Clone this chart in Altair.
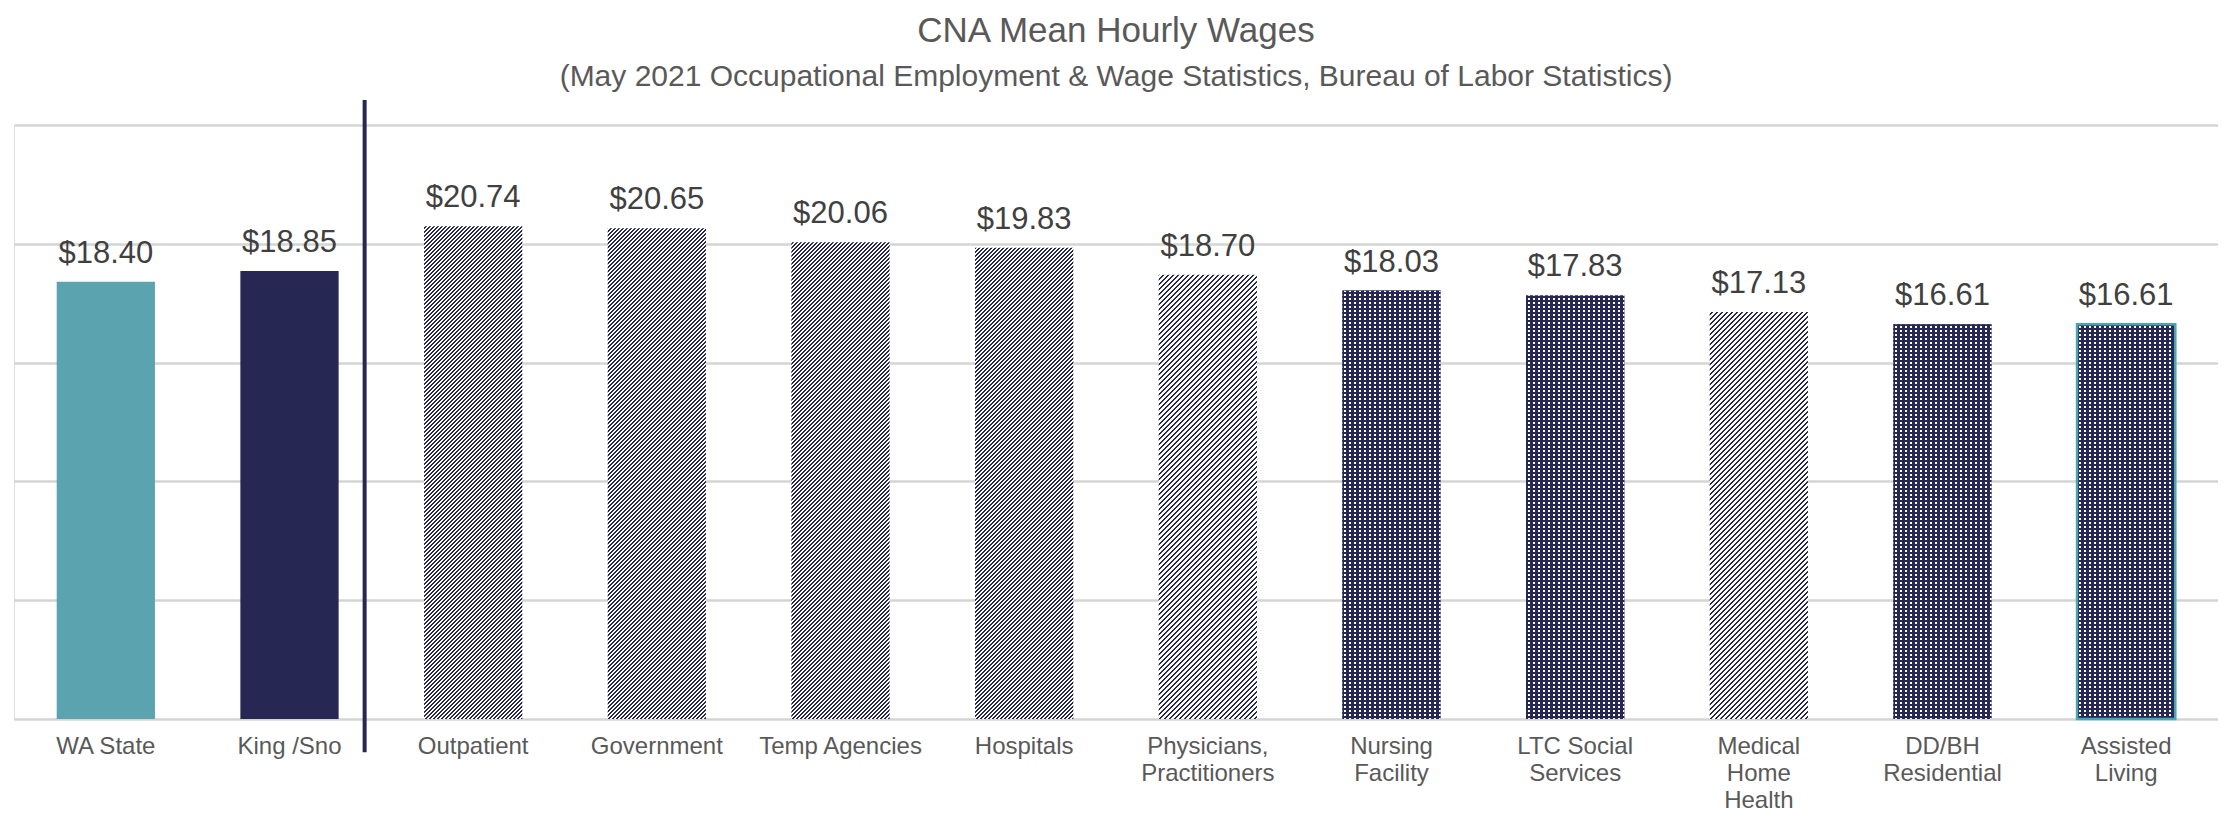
import math
import altair as alt
import pandas as pd

# ---------------- data ----------------
categories = ["WA State", "King /Sno", "Outpatient", "Government", "Temp Agencies", "Hospitals",
              "Physicians,\nPractitioners", "Nursing\nFacility", "LTC Social\nServices",
              "Medical\nHome\nHealth", "DD/BH\nResidential", "Assisted\nLiving"]
wages = [18.40, 18.85, 20.74, 20.65, 20.06, 19.83, 18.70, 18.03, 17.83, 17.13, 16.61, 16.61]
fill_kind = ["teal", "navy", "hatch", "hatch", "hatch", "hatch", "hatch_light",
             "dots", "dots", "hatch_light", "dots", "dots"]
outlined = [False] * 11 + [True]
separator_after = ["King /Sno"]
separator_top = [26.05]
separator_bottom = [-1.4]

df = pd.DataFrame({"cat": categories, "wage": wages, "kind": fill_kind, "outlined": outlined})

# ---------------- layout / style ----------------
W, H = 2204, 594
YMAX = 25
P_IN, P_OUT = 0.465, 0.2325
NAVY = "#262853"
TEAL = "#5BA3AE"
GREY = "#595959"
FONT = "Liberation Sans, Arial, sans-serif"
CLEAR_W = "rgba(255,255,255,0)"
CLEAR_N = "rgba(38,40,83,0)"

step = W / (len(categories) - P_IN + 2 * P_OUT)
BW = step * (1 - P_IN)
PX_PER_UNIT = H / YMAX
CH = 20.0                      # pattern tile height in px (multiple of every stripe period)
CH_U = CH / PX_PER_UNIT

PATTERNS = {
    "hatch": dict(kind="diag", period=4.0, on=2.0, color=NAVY, off="#ffffff", start=0.0),
    "hatch_light": dict(kind="diag", period=5.0, on=2.0, color=NAVY, off="#ffffff", start=0.0),
    "dots": dict(kind="rows", period=4.0, on=2.0, color=NAVY, off=CLEAR_N, start=0.6),
}


def stripe_stops(total, period, on, on_col, off_col, phase=0.0):
    stops = []
    pos = (phase % period) - period
    while pos < total:
        a, b, c = pos, pos + on, pos + period
        for off, col in ((a, on_col), (b, on_col), (b, off_col), (c, off_col)):
            o = min(max(off / total, 0.0), 1.0)
            stops.append({"offset": round(o, 6), "color": col})
        pos += period
    return stops


def pattern_grad(name, h, phase_shift=0.0):
    p = PATTERNS[name]
    phase = p["start"] + phase_shift
    if p["kind"] == "diag":
        s = (BW + h) / (BW ** 2 + h ** 2)
        return {"gradient": "linear", "x1": 0, "y1": 0, "x2": s * BW, "y2": s * h,
                "stops": stripe_stops(BW + h, p["period"], p["on"], p["color"], p["off"], phase)}
    return {"gradient": "linear", "x1": 0, "y1": 0, "x2": 0, "y2": 1,
            "stops": stripe_stops(h, p["period"], p["on"], p["color"], p["off"], phase)}


def col_grad():
    return {"gradient": "linear", "x1": 0, "y1": 0, "x2": 1, "y2": 0,
            "stops": stripe_stops(BW, 5.0, 2.0, "#ffffff", CLEAR_W, phase=1.5)}


# split each patterned bar into tiles so every gradient stays short
tile_rows = []
for cat, val, kind in zip(categories, wages, fill_kind):
    if kind not in PATTERNS:
        continue
    hpx = val * PX_PER_UNIT
    n = int(math.floor(hpx / CH + 1e-9))
    for k in range(n):
        tile_rows.append({"cat": cat, "y0": k * CH_U, "y1": (k + 1) * CH_U, "kind": kind, "part": "full"})
    hp = hpx - n * CH
    if hp > 0.05:
        tile_rows.append({"cat": cat, "y0": n * CH_U, "y1": val, "kind": kind, "part": "top",
                          "hp": hp})
tiles = pd.DataFrame(tile_rows)

x_enc = alt.X("cat:N", sort=categories,
              scale=alt.Scale(paddingInner=P_IN, paddingOuter=P_OUT),
              axis=alt.Axis(title=None, labelExpr="split(datum.label, '\\n')", labelAngle=0,
                            ticks=False, domain=False, labelFontSize=24, labelColor=GREY,
                            labelFont=FONT, labelPadding=15, labelLineHeight=27,
                            labelLimit=0, labelOverlap=False, grid=False))
y_axis = alt.Axis(title=None, values=[0, 5, 10, 15, 20, 25], labels=False,
                  ticks=False, domain=False, gridColor="#d4d4d4", gridWidth=2.5)
y_scale = alt.Scale(domain=[0, YMAX], nice=False, zero=True)
y_enc = alt.Y("wage:Q", scale=y_scale, axis=y_axis)

base = alt.Chart(df).encode(x=x_enc, y=y_enc)
tile_base = alt.Chart(tiles).encode(x=x_enc, y=alt.Y("y0:Q", scale=y_scale, axis=y_axis), y2="y1:Q")

layers = [
    base.transform_filter(alt.datum.kind == "teal").mark_bar(fill=TEAL),
    base.transform_filter(alt.datum.kind == "navy").mark_bar(fill=NAVY),
    base.transform_filter(alt.datum.kind == "dots").mark_bar(fill=NAVY),
    base.transform_filter(alt.datum.kind == "dots").mark_bar(fill=col_grad()),
]
for name in PATTERNS:
    layers.append(tile_base.transform_filter((alt.datum.kind == name) & (alt.datum.part == "full"))
                  .mark_bar(fill=pattern_grad(name, CH)))
for row in tile_rows:
    if row["part"] == "top":
        layers.append(tile_base.transform_filter((alt.datum.cat == row["cat"]) & (alt.datum.part == "top"))
                      .mark_bar(fill=pattern_grad(row["kind"], row["hp"], row["hp"])))

layers.append(base.transform_filter(alt.datum.outlined == True)
              .mark_bar(fillOpacity=0, stroke="#4BA6B4", strokeWidth=2.5))

layers.append(base.mark_text(baseline="alphabetic", dy=-19, fontSize=31, color="#404040",
                             font=FONT)
              .encode(text=alt.Text("wage:Q", format="$.2f")))

sep = pd.DataFrame({"cat": separator_after, "wage": separator_top, "wage2": separator_bottom})
layers.append(alt.Chart(sep).mark_rule(color=NAVY, strokeWidth=4, xOffset=26)
              .encode(x=alt.X("cat:N", sort=categories, bandPosition=1,
                              scale=alt.Scale(paddingInner=P_IN, paddingOuter=P_OUT)),
                      y=alt.Y("wage:Q", scale=y_scale, axis=y_axis), y2="wage2:Q"))

chart = alt.layer(*layers).properties(
    width=W, height=H,
    autosize=alt.AutoSizeParams(type="none"),
    padding={"left": 6, "top": 117, "right": 0, "bottom": 93},
    title=alt.TitleParams(
        text="CNA Mean Hourly Wages",
        subtitle="(May 2021 Occupational Employment & Wage Statistics, Bureau of Labor Statistics)",
        anchor="middle", font=FONT, subtitleFont=FONT, fontSize=35, subtitleFontSize=30,
        fontWeight="normal", color=GREY, subtitleColor=GREY, offset=6, subtitlePadding=13),
).configure_view(strokeWidth=0).configure(background="white")

chart.save("out.html", embed_options={"renderer": "svg", "actions": False})
